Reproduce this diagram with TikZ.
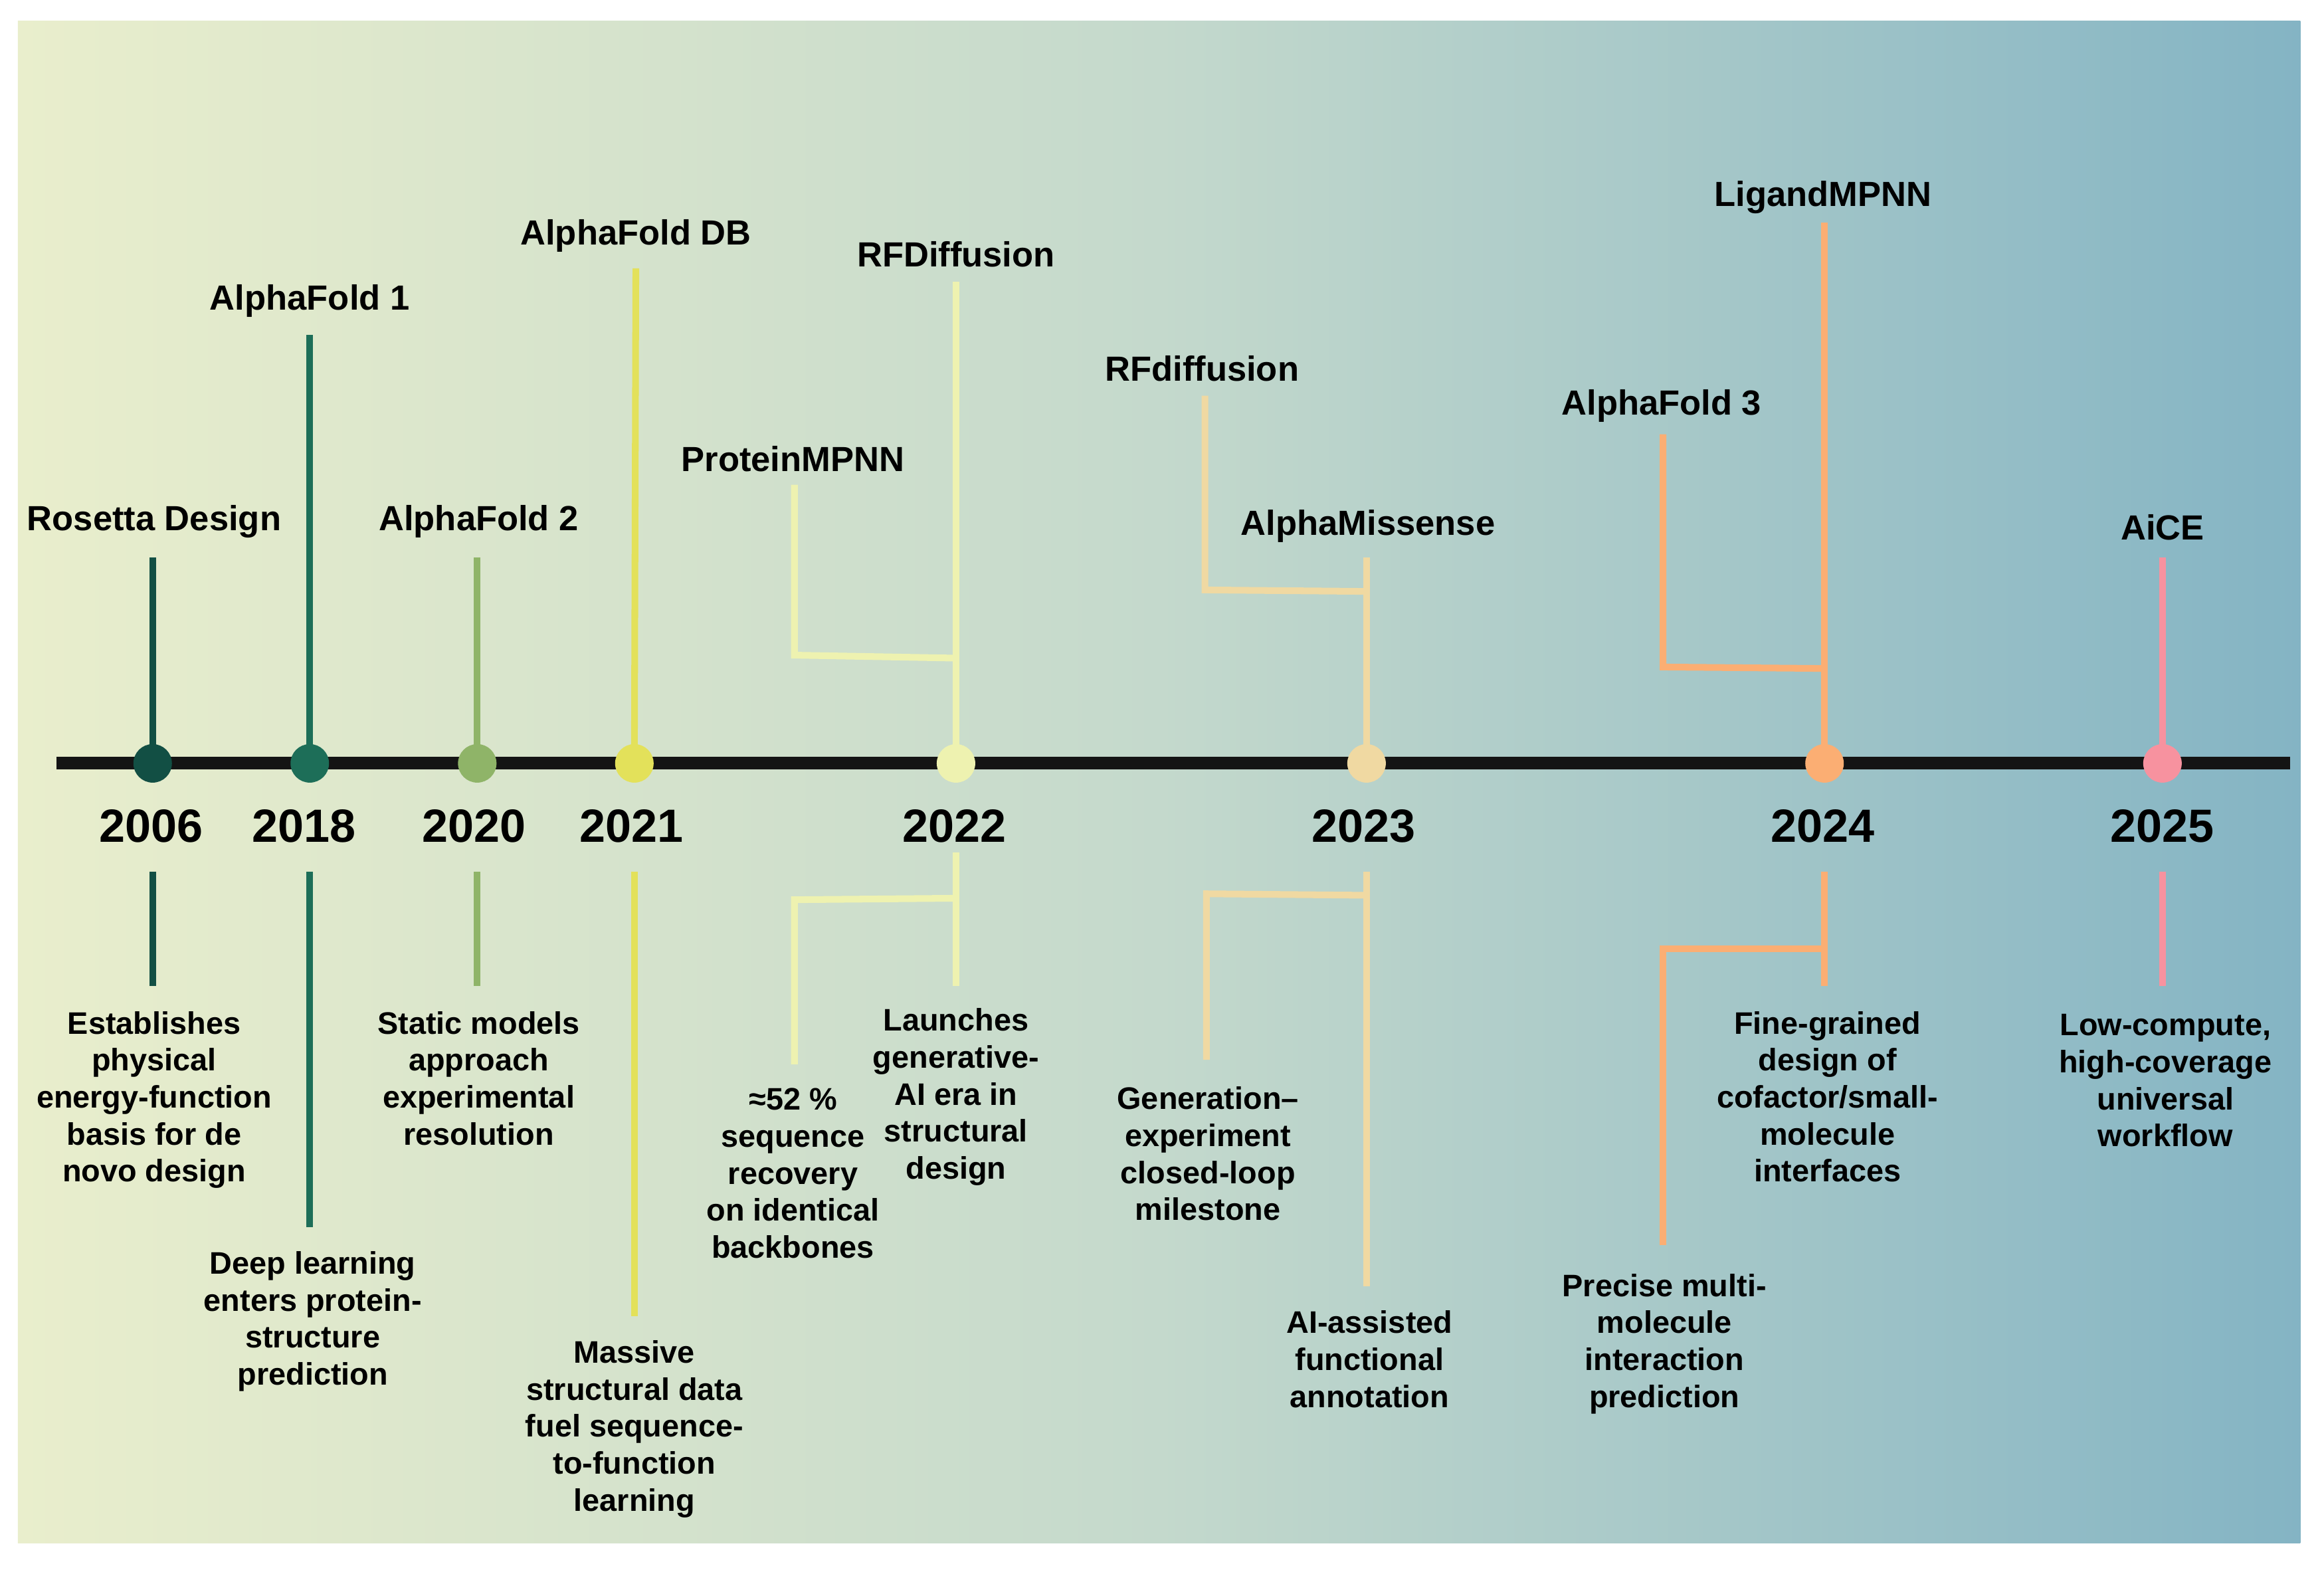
\documentclass[tikz,border=0pt]{standalone}
\usepackage{fontspec}
\setmainfont{Liberation Sans}
\definecolor{bgL}{HTML}{E9EECC}
\definecolor{bgM}{HTML}{C4D9CC}
\definecolor{bgR}{HTML}{84B4C4}
\definecolor{c06}{HTML}{124F44}
\definecolor{c18}{HTML}{1D6E58}
\definecolor{c20}{HTML}{8FB468}
\definecolor{c21}{HTML}{E3E15A}
\definecolor{c22}{HTML}{EEF2B0}
\definecolor{c23}{HTML}{F0D9A2}
\definecolor{c24}{HTML}{FBAE73}
\definecolor{c25}{HTML}{F7929F}
\begin{document}
\begin{tikzpicture}[x=0.02cm,y=-0.02cm,
  lbl/.style={font=\fontsize{13.4}{16}\selectfont\bfseries, inner sep=0pt, anchor=base},
  yr/.style={font=\fontsize{17.9}{20}\selectfont\bfseries, inner sep=0pt, anchor=base},
  desc/.style={font=\fontsize{11.95}{14.2}\selectfont\bfseries, align=center, inner sep=0pt, anchor=north},
  stem/.style={line width=0.09cm, draw=#1, line join=miter},
  dot/.style={circle, fill=#1, minimum size=0.52cm, inner sep=0pt},
]
\useasboundingbox (0,0) rectangle (1568,1059);
\fill[white] (0,0) rectangle (1568,1059);
\shade[left color=bgL, right color=bgR, middle color=bgM] (12,14) rectangle (1552,1041);

% dots (positions)
\coordinate (p06) at (103,515);
\coordinate (p18) at (209,515);
\coordinate (p20) at (322,515);
\coordinate (p21) at (428,515);
\coordinate (p22) at (645,515);
\coordinate (p23) at (922,515);
\coordinate (p24) at (1231,515);
\coordinate (p25) at (1459,515);

% upper stems
\coordinate (u06) at (103,376);
\coordinate (u18) at (209,226);
\coordinate (u20) at (322,376);
\coordinate (u21) at (429,181);
\coordinate (u22) at (645,190);
\coordinate (u22b) at (536,327);
\coordinate (u23) at (922,376);
\coordinate (u23b) at (813,267);
\coordinate (u24) at (1231,150);
\coordinate (u24b) at (1122,293);
\coordinate (u25) at (1459,376);

\draw[stem=c06] (u06) -- (p06);
\draw[stem=c18] (u18) -- (p18);
\draw[stem=c20] (u20) -- (p20);
\draw[stem=c21] (u21) -- (p21);
\draw[stem=c22] (u22) -- (p22);
\draw[stem=c22] (u22b) -- (536,442) -- (645,444);
\draw[stem=c23] (u23) -- (p23);
\draw[stem=c23] (u23b) -- (813,398) -- (922,399);
\draw[stem=c24] (u24) -- (p24);
\draw[stem=c24] (u24b) -- (1122,450) -- (1231,451);
\draw[stem=c25] (u25) -- (p25);

% lower stems
\coordinate (a06) at (103,588); \coordinate (b06) at (103,665);
\coordinate (a18) at (209,588); \coordinate (b18) at (209,828);
\coordinate (a20) at (322,588); \coordinate (b20) at (322,665);
\coordinate (a21) at (428,588); \coordinate (b21) at (428,888);
\coordinate (a22) at (645,575); \coordinate (b22) at (645,665);
\coordinate (b22b) at (536,718);
\coordinate (a23) at (922,588); \coordinate (b23) at (922,868);
\coordinate (b23b) at (814,715);
\coordinate (a24) at (1231,588); \coordinate (b24) at (1231,665);
\coordinate (b24b) at (1122,840);
\coordinate (a25) at (1459,588); \coordinate (b25) at (1459,665);

\draw[stem=c06] (a06) -- (b06);
\draw[stem=c18] (a18) -- (b18);
\draw[stem=c20] (a20) -- (b20);
\draw[stem=c21] (a21) -- (b21);
\draw[stem=c22] (a22) -- (b22);
\draw[stem=c22] (645,606) -- (536,607) -- (b22b);
\draw[stem=c23] (a23) -- (b23);
\draw[stem=c23] (922,604) -- (814,603) -- (b23b);
\draw[stem=c24] (a24) -- (b24);
\draw[stem=c24] (1231,640) -- (1122,640) -- (b24b);
\draw[stem=c25] (a25) -- (b25);

% timeline
\coordinate (tl0) at (38,515);
\coordinate (tl1) at (1545,515);
\draw[line width=0.17cm, color=black!92] (tl0) -- (tl1);

\node[dot=c06] (d06) at (p06) {};
\node[dot=c18] (d18) at (p18) {};
\node[dot=c20] (d20) at (p20) {};
\node[dot=c21] (d21) at (p21) {};
\node[dot=c22] (d22) at (p22) {};
\node[dot=c23] (d23) at (p23) {};
\node[dot=c24] (d24) at (p24) {};
\node[dot=c25] (d25) at (p25) {};

% top labels
\node[lbl] (t06) at (104,358) {Rosetta Design};
\node[lbl] (t18) at (209,209) {AlphaFold 1};
\node[lbl] (t20) at (323,358) {AlphaFold 2};
\node[lbl] (t21) at (429,165) {AlphaFold DB};
\node[lbl] (t22b) at (535,318) {ProteinMPNN};
\node[lbl] (t22) at (645,180) {RFDiffusion};
\node[lbl] (t23b) at (811,257) {RFdiffusion};
\node[lbl] (t23) at (923,361) {AlphaMissense};
\node[lbl] (t24b) at (1121,280) {AlphaFold 3};
\node[lbl] (t24) at (1230,139) {LigandMPNN};
\node[lbl] (t25) at (1459,364) {AiCE};

% years
\node[yr] (y06) at (102,568) {2006};
\node[yr] (y18) at (205,568) {2018};
\node[yr] (y20) at (320,568) {2020};
\node[yr] (y21) at (426,568) {2021};
\node[yr] (y22) at (644,568) {2022};
\node[yr] (y23) at (920,568) {2023};
\node[yr] (y24) at (1230,568) {2024};
\node[yr] (y25) at (1459,568) {2025};

% descriptions
\node[desc] (e06) at (104,682) {Establishes\\physical\\energy-function\\basis for de\\novo design};
\node[desc] (e18) at (211,844) {Deep learning\\enters protein-\\structure\\prediction};
\node[desc] (e20) at (323,682) {Static models\\approach\\experimental\\resolution};
\node[desc] (e21) at (428,904) {Massive\\structural data\\fuel sequence-\\to-function\\learning};
\node[desc] (e22b) at (535,734) {≈52 \%\\sequence\\recovery\\on identical\\backbones};
\node[desc] (e22) at (645,680) {Launches\\generative-\\AI era in\\structural\\design};
\node[desc] (e23b) at (815,733) {Generation–\\experiment\\closed-loop\\milestone};
\node[desc] (e23) at (924,884) {AI-assisted\\functional\\annotation};
\node[desc] (e24b) at (1123,859) {Precise multi-\\molecule\\interaction\\prediction};
\node[desc] (e24) at (1233,682) {Fine-grained\\design of\\cofactor/small-\\molecule\\interfaces};
\node[desc] (e25) at (1461,684) {Low-compute,\\high-coverage\\universal\\workflow};
\end{tikzpicture}
\end{document}
